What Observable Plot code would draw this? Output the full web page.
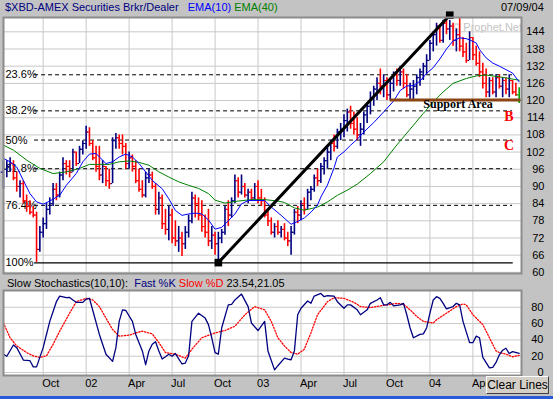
<!DOCTYPE html>
<html><head><meta charset="utf-8">
<script src="https://cdn.jsdelivr.net/npm/d3@7"></script>
<script src="https://cdn.jsdelivr.net/npm/@observablehq/plot@0.6"></script>
<style>
html,body{margin:0;padding:0;background:#c3c3c3;}
#chart{position:relative;width:553px;height:399px;overflow:hidden;background:#c3c3c3;font-family:Arial,"Liberation Sans",sans-serif;font-size:11px;}
.t{position:absolute;white-space:nowrap;line-height:13px;font-size:11px;}
#price,#stoch{position:absolute;left:0;top:0;}
#btn{position:absolute;left:486px;top:376px;width:63px;height:18px;background:#d4d0c8;border:1px solid;border-color:#fff #404040 #404040 #fff;font-size:12px;line-height:16px;text-align:center;box-sizing:border-box;}
#winbar{position:absolute;left:0;top:396px;width:553px;height:3px;background:#2a5ad8;}
</style></head><body>
<div id="chart">
<div class="t" style="left:5px;top:1px;color:#000080">$XBD-AMEX Securities Brkr/Dealer&nbsp;&nbsp;&nbsp;<span style="color:#0000ff">EMA(10)</span> <span style="color:#008000">EMA(40)</span></div>
<div class="t" style="left:501px;top:1px;color:#000">07/09/04</div>
<div id="price"></div>
<div class="t" style="left:7px;top:277px;color:#000">Slow Stochastics(10,10):&nbsp;&nbsp;<span style="color:#000080">Fast %K</span> <span style="color:#ff0000">Slow %D</span> 23.54,21.05</div>
<div id="stoch"></div>
<div id="btn">Clear Lines</div>
<div id="winbar"></div>
</div>
<script>
// ---------- data (weekly bars, week index 0 = 2001-07-13, 156 = 2004-07-09) ----------
const open = [
 95,96,97,98,93,90,91,85,83,81, 80,68,74,77,82,84,89,87,94,98, 97,95,102,98,103,105,109,105,100,97,
 94,97,92,91,106,107,105,104,98,100, 97,92,89,87,93,94,90,82,86,77, 75,80,72,71,72,70,74,78,86,84,
 80,76,74,71,73,70,72,74,82,80, 85,92,88,90,87,88,86,90,86,85, 80,78,74,76,74,75,72,71,74,81,
 80,84,82,88,89,93,92,97,99,102, 105,104,109,110,113,116,112,110,108,110, 115,118,121,124,126,125,127,122,126,129,
 127,130,126,122,124,125,128,130,132,134, 140,143,146,141,147,145,146,141,143,139, 137,134,142,136,133,130,126,123,127,123,
 128,125,127,124,127,123,122];
const high = [
 99,99,100,99,95,92,92,87,85,83, 81,76,79,84,86,91,91,95,100,99, 99,103,102,104,106,111,110.5,106,104,104,
 99,97,96,107,108.5,108,108,105,102,101, 99,96,92,95,96,95,91,88,87,82, 83,82,78,76,74,76,80,88,87,86,
 85,80,82,76,74,74,75,83,85,86, 94,93,94,91,89,89,91,92,89,86, 82,79,77,78,76,77,74,76,82,83,
 85,86,89,90,94,96,98,100,104,106, 108,110,112,115,117,118,116,114,112,116, 119,123,125,128,131,129,128,127,130,131,
 132,131,129,126,127,129,131,133,136,141, 144,147,146,148,149.5,148,147,145,149,142, 140,144,142,139,137,133,131,128,128,129,
 129,128,128,129,127,126,124.5];
const low = [
 89,93,95,92,88,86,84,81,80,79, 63.5,67,72,75,80,83,85,86,92,94, 93,95,97,98,101,103,104,99,95,92,
 91,90,89,91,103,103,101,96,96,95, 91,88,86,86,91,89,80,80,75,73, 71,70,69,67,65.5,68,72,77,79,78,
 74,72,69,68,66,63.3,70,73,76,79, 84,86,87,86,84,85,85,84,83,79, 76,73,72,73,72,71,69,66,73,77,
 78,80,82,85,88,90,91,94,96,99, 102,103,106,107,109,110,108,106,104,108, 112,115,118,120,122,121,120,120,123,125,
 125,124,121,120,120,122,125,127,129,134, 137,139,140,140,143,141,139,137,137,135, 133,134,134,132,128,124,121,121,122,121,
 124,121,122,121,122,121.5,119];
const close = [
 96,97,98,93,90,91,85,83,81,80, 68,74,77,82,84,89,87,94,98,97, 95,102,98,103,105,109,105,100,97,94,
 97,92,91,106,107,105,104,98,100,97, 92,89,87,93,94,90,82,86,77,75, 80,72,71,72,70,74,78,86,84,80,
 76,74,71,73,70,72,74,82,80,85, 92,88,90,87,88,86,90,86,85,80, 78,74,76,74,75,72,71,74,81,80,
 84,82,88,89,93,92,97,99,102,105, 104,109,110,113,116,112,110,108,110,115, 118,121,124,126,125,127,122,126,129,127,
 130,126,122,124,125,128,130,132,134,140, 143,146,141,147,145,146,141,143,139,137, 134,142,136,133,130,126,123,127,123,128,
 125,127,124,127,123,122,120];

const ema10Week = [0,2,4,6,8,10,12,14,17,19,22,24,26,28,29,31,33,35,37,39,41,43,45,48,50,52,54,56,58,60,62,64,66,68,70,72,74,77,79,81,84,87,89,91,93,95,96,98,100,101,103,105,107,109,112,115,118,120,122,124,126,128,130,132,134,136,138,140,141,143,144,146,148,150,152,154,156];
const ema10 = [99.8,98.6,96.8,92.1,87.5,84.6,83.8,84.9,86.9,90.4,94.5,98.6,101.3,101.5,100.3,98,98.6,100.3,101.3,100.3,98,95.1,92.1,89.2,85.7,81.6,79.9,80.4,80.7,80.4,78.3,75.1,75.7,78,80.4,83.9,85.1,85.1,85.1,82.8,79.9,76.8,77.8,79,81,83.5,86.3,90.5,96.5,100.3,102.1,104.4,106.5,109,112.3,116,119.8,123.5,125.1,125.2,126.8,129.5,131.5,134.5,138,140.8,141.9,141.6,141.2,140.1,137.8,134.9,133.1,132,130.8,129.6,126.5];
const ema40Week = [0,3,7,11,15,19,23,26,29,32,35,38,41,44,47,50,53,56,59,62,64,67,71,75,79,83,85,88,91,95,98,101,104,107,111,115,119,123,127,130,133,136,140,143,146,150,153,156];
const ema40 = [104.4,102.7,99.2,96.3,94.5,95.1,96.3,97.7,97.7,97.7,98.6,98.9,98.4,97.4,95.1,93.3,91.6,90.4,89.3,87.5,85.2,84.2,84.9,85.4,85.4,84.9,84.4,82.5,81.7,82.8,84.6,86.9,88.7,90.8,94.5,98.6,104.5,110,115.5,119.5,123,126,127.7,128.6,128.9,128.3,127.7,127.1];

const stochWeek = [0,1,3,4,6,8,9,10,12,14,16,17,19,20,21,22,24,25,26,29,31,33,34,35,36,37,39,40,42,43,44,45,46,47,48,49,50,51,52,54,55,56,57,59,61,62,63,64,65,66,68,69,70,72,74,75,77,79,80,82,83,85,86,87,88,89,90,92,93,94,96,97,98,100,101,103,104,105,107,108,110,111,113,114,115,116,117,118,120,121,122,123,124,126,127,128,129,130,131,132,133,134,136,137,138,139,141,142,143,144,145,147,148,149,150,151,152,153,154,156];
const fastK = [22.5,20,33.8,30.5,15.3,14.5,7,7,30.5,62.7,86.8,93.7,91.7,92,88.9,86,86,90,91,46.7,22.5,13.7,30.5,62.7,76.8,76,62.7,46.7,26.5,9.6,26.5,34.6,37.8,26.5,16.5,19.3,22.5,20,23.3,10.5,11.7,20.5,62.7,72.7,66.7,58.7,42.6,24.5,22.5,54.6,82.9,83.6,88.9,96.1,80.8,60.7,51.5,62.7,26.5,3.3,8.4,17.7,16.5,15.7,26.5,70.8,78.8,87.7,84.8,93.7,96.9,92.9,94.1,93.7,86.8,78.8,82.9,82.9,76.8,70.8,76.8,84.8,88.9,91.7,82.9,82.9,86,81.7,82.9,84.8,70.8,54.6,42.6,46.7,47.4,54.6,72.7,88.9,92.9,90.9,84.8,78,80.8,84.8,82.9,62.7,36.6,36.6,44.6,42.6,18.5,5.7,6.4,12.4,21.7,27.4,29.8,23.3,25.7,23.54];
const slowDWeek = [0,2,4,7,9,11,13,15,17,20,22,25,27,29,31,33,35,38,40,42,45,47,49,52,55,57,60,64,67,70,73,76,79,81,83,85,87,89,91,93,95,98,100,103,106,108,111,114,116,119,121,123,125,127,130,131,134,137,139,140,142,145,147,149,150,152,154,156];
const slowD = [60.7,42.6,32.6,24.5,20.5,18.5,20.5,34.6,50.7,72.7,86.8,90.9,88.9,80.8,66.7,52.7,44.6,45.8,48.6,50.7,47.4,36.6,24.5,22.5,17.7,28.6,42.6,48.6,51.5,56.7,70.8,80.8,76.8,62.7,42.6,32.6,24.5,22.5,28.6,48.6,70.8,86.8,91.7,90.9,86,80.8,79.6,81.7,82.9,84.8,83.6,76.8,68.8,62.7,60.7,64.7,72.7,80.8,84,82.9,70.8,58.7,42.6,26.5,24.5,22.5,19.3,21.05];

const quarterWeek = [12,25,38,51,64,77,90,103,116,129,142];
const quarterLabel = ["Oct","02","Apr","Jul","Oct","03","Apr","Jul","Oct","04","Apr"];
const priceTicks = [60,66,72,78,84,90,96,102,108,114,120,126,132,138,144];
const stochTicks = [0,20,40,60,80];
const fibLabel = ["23.6%","38.2%","50%","61.8%","76.4%","100%"];
const fibLevel = [129.0,116.4,106.2,96.2,83.4,63.3];
const trendWeek = [65,135];
const trendPrice = [63.4,149.8];
const supportWeek = [117,156.6];
const supportPrice = 120.2;
const notes = [
  {text:"Support Area", week:137.5, price:118.6, color:"#000", size:12},
  {text:"B", week:152.9, price:114.4, color:"#ff0000", size:14},
  {text:"C", week:152.9, price:104.3, color:"#ff0000", size:14}
];
const watermark = [{text:"© Prophet.Net", week:146.3, price:145.6}];

// ---------- build ----------
const N = close.length;
const bars = close.map((c,k)=>({w:k, o:open[k], h:high[k], l:low[k], c, up: k===0 ? true : c >= close[k-1], last: k===N-1}));
const upBars = bars.filter(d=>d.up && !d.last), dnBars = bars.filter(d=>!d.up && !d.last), lastBar = bars.filter(d=>d.last);
const pts = (ws, vs) => ws.map((w,k)=>({w, v:vs[k]}));
const font = "Arial, 'Liberation Sans', sans-serif";
const X = {domain:[0,156.7], axis:null};
const grid = "#c8c8c8";

const barMarks = (data, color) => [
  Plot.ruleX(data, {x:"w", y1:"l", y2:"h", stroke:color, strokeWidth:1.6}),
  Plot.ruleY(data, {y:"o", x1:d=>d.w-0.7, x2:d=>d.w, stroke:color, strokeWidth:1.1}),
  Plot.ruleY(data, {y:"c", x1:d=>d.w, x2:d=>d.w+0.7, stroke:color, strokeWidth:1.1})
];

const price = Plot.plot({
  width:553, height:276, marginTop:17, marginBottom:3, marginLeft:3, marginRight:32,
  style:{background:"transparent", fontFamily:font, fontSize:"11px", color:"#000", overflow:"visible"},
  x:X, y:{domain:[59.6,149], axis:null},
  marks:[
    Plot.frame({fill:"white"}),
    Plot.gridX(quarterWeek, {stroke:grid, strokeOpacity:1}),
    Plot.gridY(priceTicks, {stroke:grid, strokeOpacity:1}),
    Plot.text(watermark, {x:"week", y:"price", text:"text", fill:"#c4c4c4", fontSize:11}),
    Plot.ruleY(fibLevel.slice(0,5), {y:d=>d, x1:9.4, x2:154, stroke:"#000", strokeDasharray:"4,3"}),
    Plot.ruleY(fibLevel.slice(5), {y:d=>d, x1:9.4, x2:154.2, stroke:"#000", strokeWidth:1.3}),
    Plot.text(fibLabel, {text:d=>d, y:(d,i)=>fibLevel[i], x:0.6, textAnchor:"start", fill:"#000", fontSize:11}),
    ...barMarks(upBars, "#000080"),
    ...barMarks(dnBars, "#ff0000"),
    ...barMarks(lastBar, "#00a000"),
    Plot.line(pts(ema40Week, ema40), {x:"w", y:"v", stroke:"#008000", strokeWidth:1}),
    Plot.line(pts(ema10Week, ema10), {x:"w", y:"v", stroke:"#0000ff", strokeWidth:1}),
    Plot.line(pts(trendWeek, trendPrice), {x:"w", y:"v", stroke:"#000", strokeWidth:3}),
    Plot.dot(pts(trendWeek, trendPrice), {x:"w", y:"v", symbol:"square", r:4.3, fill:"#000", stroke:null}),
    Plot.ruleY([supportPrice], {y:d=>d, x1:supportWeek[0], x2:supportWeek[1], stroke:"#8b4513", strokeWidth:3}),
    Plot.text(notes, {x:"week", y:"price", text:"text", fill:"color", fontSize:"size", fontWeight:"bold", fontFamily:"'Liberation Serif','Times New Roman',serif"}),
    Plot.text(priceTicks, {y:d=>d, text:d=>String(d), frameAnchor:"right", dx:23, textAnchor:"end", fill:"#000", fontSize:11}),
    Plot.frame({stroke:"#8c8c8c", strokeWidth:2})
  ]
});
document.getElementById("price").appendChild(price);

const stoch = Plot.plot({
  width:553, height:399, marginTop:290, marginBottom:24, marginLeft:3, marginRight:32,
  style:{background:"transparent", fontFamily:font, fontSize:"11px", color:"#000", overflow:"visible"},
  x:X, y:{domain:[-3.6,100.5], axis:null},
  marks:[
    Plot.frame({fill:"white"}),
    Plot.gridX(quarterWeek, {stroke:grid, strokeOpacity:1}),
    Plot.gridY(stochTicks, {stroke:grid, strokeOpacity:1}),
    Plot.line(pts(slowDWeek, slowD), {x:"w", y:"v", stroke:"#ff0000", strokeWidth:1.3, strokeDasharray:"1.3,1.7"}),
    Plot.line(pts(stochWeek, fastK), {x:"w", y:"v", stroke:"#000080", strokeWidth:1.3}),
    Plot.text(stochTicks, {y:d=>d, text:d=>String(d), frameAnchor:"right", dx:22, textAnchor:"end", fill:"#000", fontSize:11}),
    Plot.text(quarterWeek, {x:d=>d, text:(d,i)=>quarterLabel[i], frameAnchor:"bottom", dy:11, dx:-1, textAnchor:"start", fill:"#000", fontSize:11}),
    Plot.frame({stroke:"#8c8c8c", strokeWidth:2})
  ]
});
document.getElementById("stoch").appendChild(stoch);
</script>
</body></html>
